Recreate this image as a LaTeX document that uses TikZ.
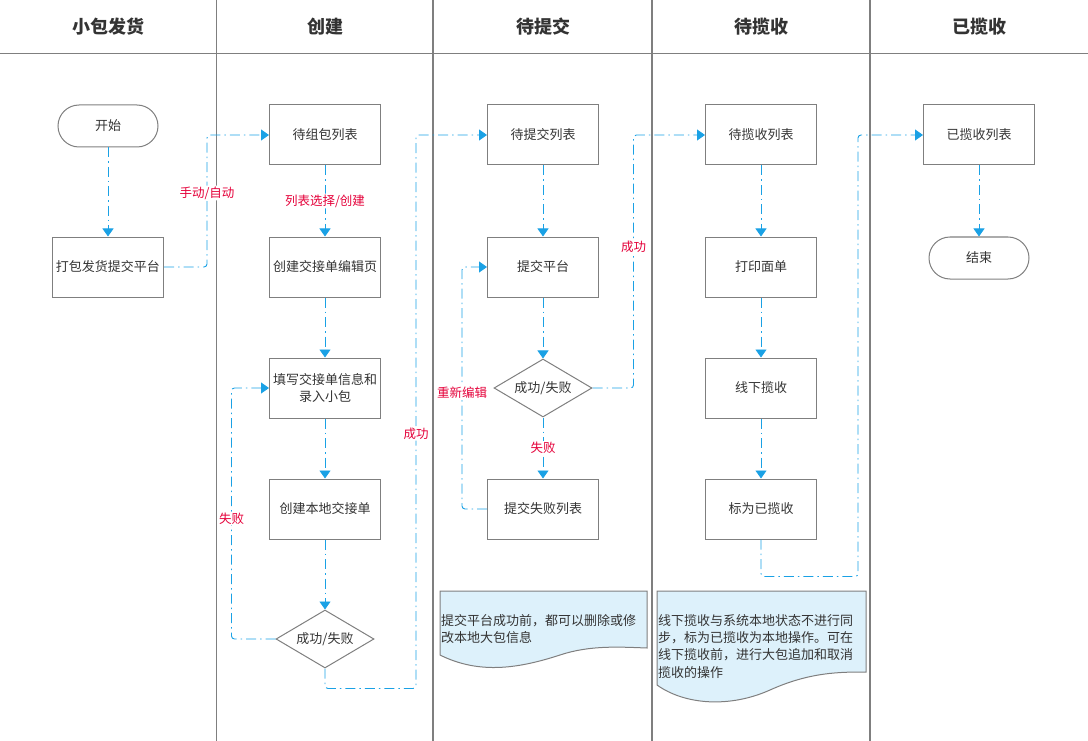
\documentclass[tikz,border=0pt]{standalone}
\usepackage{fontspec}
\newfontfamily\cjk{Noto Sans CJK SC}
\usepackage{tikz}
\usetikzlibrary{arrows.meta,shapes.geometric,calc}
\definecolor{lnBlue}{HTML}{1AA1E5}
\definecolor{lnGray}{HTML}{7F7F7F}
\definecolor{lnText}{HTML}{333333}
\definecolor{lnRed}{HTML}{E5003A}
\definecolor{lnNote}{HTML}{DDF1FB}

\begin{document}
\begin{tikzpicture}[x=1pt, y=-1pt,
    box/.style={draw=lnGray, line width=1pt, minimum width=111pt, minimum height=60pt, inner sep=2pt, align=center, text=lnText, font=\cjk\fontsize{13}{17}\selectfont},
    term/.style={box, rounded corners=21pt, minimum width=100pt, minimum height=42pt},
    choice/.style={box, diamond, aspect=1.7, inner sep=0pt, minimum width=98pt, minimum height=58pt},
    flow/.style={draw=lnBlue, line width=0.9pt, dash pattern=on 10pt off 4pt on 1.5pt off 4pt, rounded corners=3pt, -{Triangle[width=11pt,length=8pt]}},
    lbl/.style={fill=white, text=lnRed, inner sep=1pt, font=\cjk\fontsize{12.5}{15}\selectfont},
    head/.style={text=lnText, font=\cjk\bfseries\fontsize{18}{22}\selectfont},
    memo/.style={anchor=north west, inner sep=0pt, align=left, text=lnText, font=\cjk\fontsize{13}{17.3}\selectfont},
    lane/.style={draw=lnGray, line width=2pt}]
    \useasboundingbox (0,0) rectangle (1088,741);
    \draw[lnGray, line width=1pt] (0,54) -- (1088,54);
    \draw[lnGray, line width=1pt] (216,0) -- (216,741);
    \foreach \lx in {433,652,870} \draw[lane] (\lx,0) -- (\lx,741);

    \node[head] (hSmall) at (108,27) {小包发货};
    \node[head] (hCreate) at (325,27) {创建};
    \node[head] (hSubmit) at (543,27) {待提交};
    \node[head] (hPickup) at (761,27) {待揽收};
    \node[head] (hDone) at (979,27) {已揽收};

    \node[term] (start) at (108,126) {开始};
    \node[box] (pack) at (108,267) {打包发货提交平台};
    \node[box] (grouplist) at (325,135) {待组包列表};
    \node[box] (editpage) at (325,267) {创建交接单编辑页};
    \node[box] (fillin) at (325,388) {填写交接单信息和\\录入小包};
    \node[box] (localbill) at (325,509) {创建本地交接单};
    \node[choice] (check1) at (325,639) {成功/失败};
    \node[box] (sublist) at (543,135) {待提交列表};
    \node[box] (platform) at (543,267) {提交平台};
    \node[choice] (check2) at (543,388) {成功/失败};
    \node[box] (faillist) at (543,509) {提交失败列表};
    \node[box] (pickuplist) at (761,135) {待揽收列表};
    \node[box] (print) at (761,267) {打印面单};
    \node[box] (offline) at (761,388) {线下揽收};
    \node[box] (mark) at (761,509) {标为已揽收};
    \node[box] (donelist) at (979,135) {已揽收列表};
    \node[term] (finish) at (979,258) {结束};

    \filldraw[draw=lnGray, fill=lnNote, line width=1pt] (440,591) -- (647,591) -- (647,648) .. controls (620,647) and (590,645) .. (560,655) .. controls (520,668) and (480,675) .. (440,655) -- cycle;
    \filldraw[draw=lnGray, fill=lnNote, line width=1pt] (657,591) -- (866,591) -- (866,672) .. controls (840,672) and (810,672) .. (770,690) .. controls (730,708) and (685,705) .. (657,685) -- cycle;
    \node[memo] (noteSubmit) at (441,614) {提交平台成功前，都可以删除或修\\改本地大包信息};
    \node[memo] (notePickup) at (658,614) {线下揽收与系统本地状态不进行同\\步，标为已揽收为本地操作。可在\\线下揽收前，进行大包追加和取消\\揽收的操作};

    \draw[flow] (start) -- (pack);
    \draw[flow] (pack.east) -- ++(43,0) |- node[lbl, pos=0.28] {手动/自动} (grouplist.west);
    \draw[flow] (grouplist) -- node[lbl] {列表选择/创建} (editpage);
    \draw[flow] (editpage) -- (fillin);
    \draw[flow] (fillin) -- (localbill);
    \draw[flow] (localbill) -- (check1);
    \draw[flow] (check1.west) -- ++(-44,0) |- node[lbl, pos=0.24] {失败} (fillin.west);
    \draw[flow] (check1.south) |- ++(91,20) |- node[lbl, pos=0.23] {成功} (sublist.west);
    \draw[flow] (sublist) -- (platform);
    \draw[flow] (platform) -- (check2);
    \draw[flow] (check2) -- node[lbl] {失败} (faillist);
    \draw[flow] (faillist.west) -- ++(-25,0) |- node[lbl, pos=0.24] {重新编辑} (platform.west);
    \draw[flow] (check2.east) -- ++(41,0) |- node[lbl, pos=0.28] {成功} (pickuplist.west);
    \draw[flow] (pickuplist) -- (print);
    \draw[flow] (print) -- (offline);
    \draw[flow] (offline) -- (mark);
    \draw[flow] (mark.south) |- ++(97,37) |- (donelist.west);
    \draw[flow] (donelist) -- (finish);
\end{tikzpicture}
\end{document}
